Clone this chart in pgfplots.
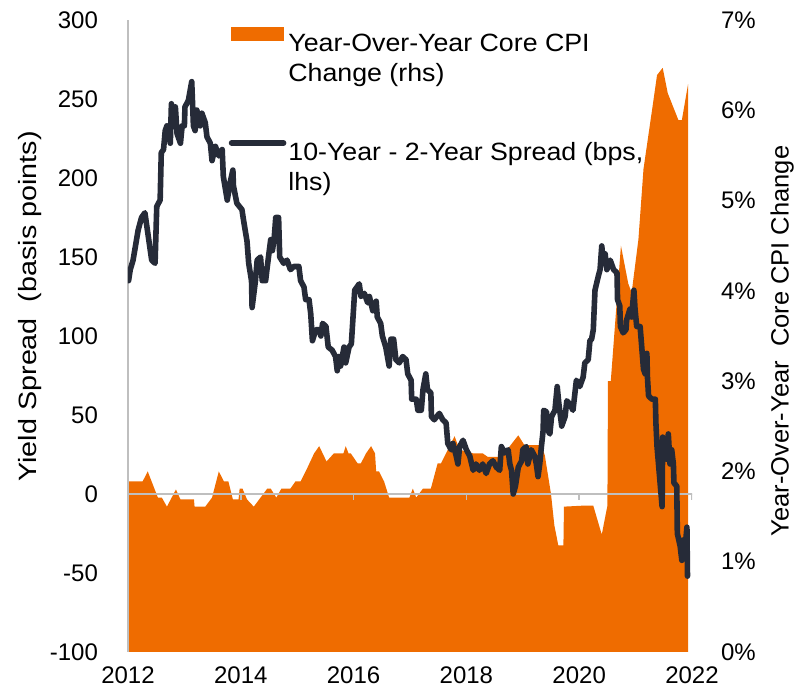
\documentclass[border=0pt]{standalone}
\usepackage{fontspec}
\setmainfont{Liberation Sans}
\usepackage{graphicx}
\usepackage{pgfplots}
\pgfplotsset{compat=1.18}

\definecolor{cpiorange}{HTML}{EF6C00}
\definecolor{spreadnavy}{HTML}{262B38}
\definecolor{axisgray}{HTML}{BFBFBF}

% monthly year-over-year core inflation, percent (rhs)
\pgfplotstableread{
t p
2012.00 1.89
2012.26 1.89
2012.35 2.00
2012.53 1.71
2012.60 1.71
2012.69 1.61
2012.85 1.80
2012.93 1.69
2013.17 1.69
2013.18 1.61
2013.37 1.61
2013.49 1.71
2013.61 2.00
2013.70 1.89
2013.78 1.89
2013.86 1.69
2013.96 1.69
2013.98 1.81
2014.03 1.81
2014.11 1.69
2014.23 1.61
2014.47 1.81
2014.53 1.81
2014.63 1.71
2014.72 1.81
2014.88 1.81
2014.97 1.89
2015.06 1.89
2015.18 2.04
2015.30 2.20
2015.39 2.28
2015.52 2.11
2015.65 2.20
2015.82 2.20
2015.86 2.28
2015.91 2.20
2015.95 2.20
2016.07 2.09
2016.13 2.09
2016.22 2.20
2016.31 2.28
2016.38 2.20
2016.40 2.00
2016.45 2.00
2016.54 1.89
2016.63 1.71
2016.99 1.71
2017.05 1.81
2017.11 1.71
2017.23 1.81
2017.37 1.81
2017.49 2.09
2017.55 2.09
2017.67 2.24
2017.79 2.39
2017.88 2.24
2018.12 2.20
2018.29 2.20
2018.38 2.16
2018.62 2.16
2018.92 2.40
2019.03 2.29
2019.33 2.29
2019.39 2.18
2019.50 1.75
2019.56 1.40
2019.63 1.18
2019.72 1.18
2019.73 1.61
2020.04 1.62
2020.25 1.62
2020.40 1.30
2020.50 1.62
2020.51 3.00
2020.56 3.00
2020.74 4.50
2020.87 4.08
2020.93 3.98
2021.05 4.57
2021.14 5.35
2021.30 6.04
2021.38 6.39
2021.48 6.47
2021.57 6.19
2021.76 5.89
2021.82 5.89
2021.93 6.29
}\cpitable

% 10-year minus 2-year treasury spread, bps (lhs)
\pgfplotstableread{
t v
2012.01 135
2012.04 142
2012.09 148
2012.18 167
2012.24 175
2012.30 178
2012.36 163
2012.42 148
2012.48 146
2012.51 182
2012.57 186
2012.59 216
2012.63 218
2012.66 230
2012.69 233
2012.75 222
2012.77 247
2012.81 233
2012.84 245
2012.87 228
2012.93 222
2012.96 233
2013.00 233
2013.01 245
2013.07 249
2013.13 261
2013.16 233
2013.19 230
2013.22 243
2013.28 233
2013.31 241
2013.37 235
2013.40 226
2013.46 222
2013.49 211
2013.55 220
2013.61 214
2013.67 218
2013.69 201
2013.76 186
2013.81 197
2013.86 205
2013.87 195
2013.93 184
2014.02 180
2014.05 173
2014.11 160
2014.14 146
2014.19 135
2014.20 118
2014.26 135
2014.29 148
2014.35 150
2014.38 135
2014.44 135
2014.47 144
2014.53 161
2014.56 154
2014.59 161
2014.62 175
2014.67 175
2014.69 150
2014.76 146
2014.82 148
2014.88 142
2014.94 144
2015.03 144
2015.06 135
2015.12 131
2015.15 123
2015.21 123
2015.24 114
2015.27 97
2015.33 104
2015.39 104
2015.42 100
2015.45 108
2015.51 106
2015.55 93
2015.62 91
2015.68 87
2015.71 78
2015.74 87
2015.77 81
2015.83 93
2015.86 83
2015.92 93
2015.96 95
2016.02 129
2016.10 133
2016.13 125
2016.19 127
2016.25 121
2016.28 125
2016.34 116
2016.40 122
2016.42 112
2016.48 108
2016.51 100
2016.57 93
2016.60 87
2016.63 81
2016.66 98
2016.71 98
2016.75 85
2016.81 83
2016.87 87
2016.93 85
2016.96 76
2017.02 72
2017.03 60
2017.11 60
2017.14 53
2017.20 53
2017.23 66
2017.28 76
2017.31 66
2017.37 64
2017.38 49
2017.43 47
2017.52 51
2017.58 47
2017.64 45
2017.67 32
2017.73 28
2017.76 32
2017.82 24
2017.85 19
2017.88 30
2017.94 34
2018.00 28
2018.06 24
2018.12 15
2018.17 19
2018.23 15
2018.29 19
2018.35 13
2018.41 19
2018.47 21
2018.53 17
2018.59 15
2018.62 30
2018.68 26
2018.74 28
2018.77 19
2018.80 15
2018.83 0
2018.87 5
2018.92 17
2018.98 21
2019.00 28
2019.06 30
2019.09 19
2019.15 28
2019.21 24
2019.24 19
2019.27 11
2019.30 19
2019.33 30
2019.36 40
2019.37 53
2019.42 52
2019.45 40
2019.48 38
2019.51 49
2019.57 53
2019.61 68
2019.64 57
2019.69 43
2019.75 49
2019.78 59
2019.83 57
2019.89 53
2019.95 72
2020.01 68
2020.07 74
2020.10 83
2020.16 85
2020.19 97
2020.22 98
2020.25 104
2020.28 129
2020.34 138
2020.37 142
2020.40 157
2020.43 146
2020.46 152
2020.49 142
2020.55 148
2020.61 142
2020.67 140
2020.68 123
2020.72 119
2020.73 106
2020.78 102
2020.83 104
2020.84 110
2020.90 117
2020.93 112
2020.97 129
2020.99 117
2021.02 106
2021.08 106
2021.14 79
2021.17 76
2021.20 89
2021.21 74
2021.23 62
2021.29 60
2021.35 60
2021.36 45
2021.38 30
2021.47 -8
2021.48 36
2021.52 28
2021.55 22
2021.58 38
2021.61 19
2021.64 28
2021.67 19
2021.68 7
2021.73 5
2021.74 -25
2021.79 -33
2021.82 -42
2021.85 -29
2021.88 -33
2021.91 -21
2021.92 -52
}\spreadtable

\begin{document}
\begin{tikzpicture}
\pgfplotsset{
  common/.style={
    scale only axis, width=282pt, height=316pt,
    xmin=2012, xmax=2022,
    /pgf/number format/assume math mode=true,
    tick label style={font=\fontsize{12}{14}\selectfont},
    label style={font=\fontsize{12.5}{15}\selectfont},
    major tick length=0pt,
  },
}
% right axis: core inflation area
\begin{axis}[common,
  axis x line=none,
  axis y line*=right,
  y axis line style={draw=none},
  ymin=0, ymax=7, ytick={0,1,...,7},
  yticklabel={\pgfmathprintnumber{\tick}\%},
  yticklabel style={xshift=11pt},
  ylabel={\scalebox{1.02}[1]{Year-Over-Year\ \ Core CPI Change}},
  ylabel style={at={(axis description cs:1.160,0.492)}, anchor=center},
]
\addplot[fill=cpiorange, draw=none] table[x=t, y=p] {\cpitable} \closedcycle;
\end{axis}
% left axis: spread line
\begin{axis}[common, name=ax,
  axis y line*=left,
  axis x line*=bottom,
  x axis line style={draw=none},
  y axis line style={draw=axisgray, line width=0.75pt, -},
  ymin=-100, ymax=300, ytick={-100,-50,...,300},
  yticklabel style={xshift=-11.5pt},
  xtick={2012,2014,...,2022},
  xticklabel style={/pgf/number format/1000 sep={}, yshift=-4pt},
  ylabel={\scalebox{1.15}[1]{Yield Spread\ \ (basis points)}},
  ylabel style={at={(axis description cs:-0.174,0.547)}, anchor=center},
  legend style={at={(0.178,0.989)}, anchor=north west, draw=none, fill=none,
    inner sep=0pt, row sep=40.5pt, column sep=0pt,
    nodes={inner sep=1pt},
    font=\fontsize{12.5}{15}\selectfont},
  legend cell align=left,
]
\draw[axisgray, line width=0.75pt] (axis cs:2012,0) -- (axis cs:2022.05,0);
\pgfplotsinvokeforeach{2014,2016,2018,2020,2022}{
  \draw[axisgray, line width=0.75pt] (axis cs:#1,0) -- ++(0pt,-3pt);
}
\addlegendimage{legend image code/.code={\fill[cpiorange] (0pt,0.8pt) rectangle (26pt,7.3pt);}}
\addlegendentry{\scalebox{1.07}[1]{\begin{tabular}[t]{@{}l@{}}Year-Over-Year Core CPI\\Change (rhs)\end{tabular}}}
\addplot[spreadnavy, line width=2.8pt, line join=round, line cap=round,
  legend image code/.code={\draw[spreadnavy, line width=2.8pt, line cap=round] (0pt,4.2pt) -- (26pt,4.2pt);}]
  table[x=t, y=v] {\spreadtable};
\addlegendentry{\scalebox{1.07}[1]{\begin{tabular}[t]{@{}l@{}}10-Year - 2-Year Spread (bps,\\lhs)\end{tabular}}}
\end{axis}
\pgfresetboundingbox
\path ([shift={(-64pt,-21.5pt)}]ax.south west) rectangle ([shift={(53pt,10pt)}]ax.north east);
\end{tikzpicture}
\end{document}
